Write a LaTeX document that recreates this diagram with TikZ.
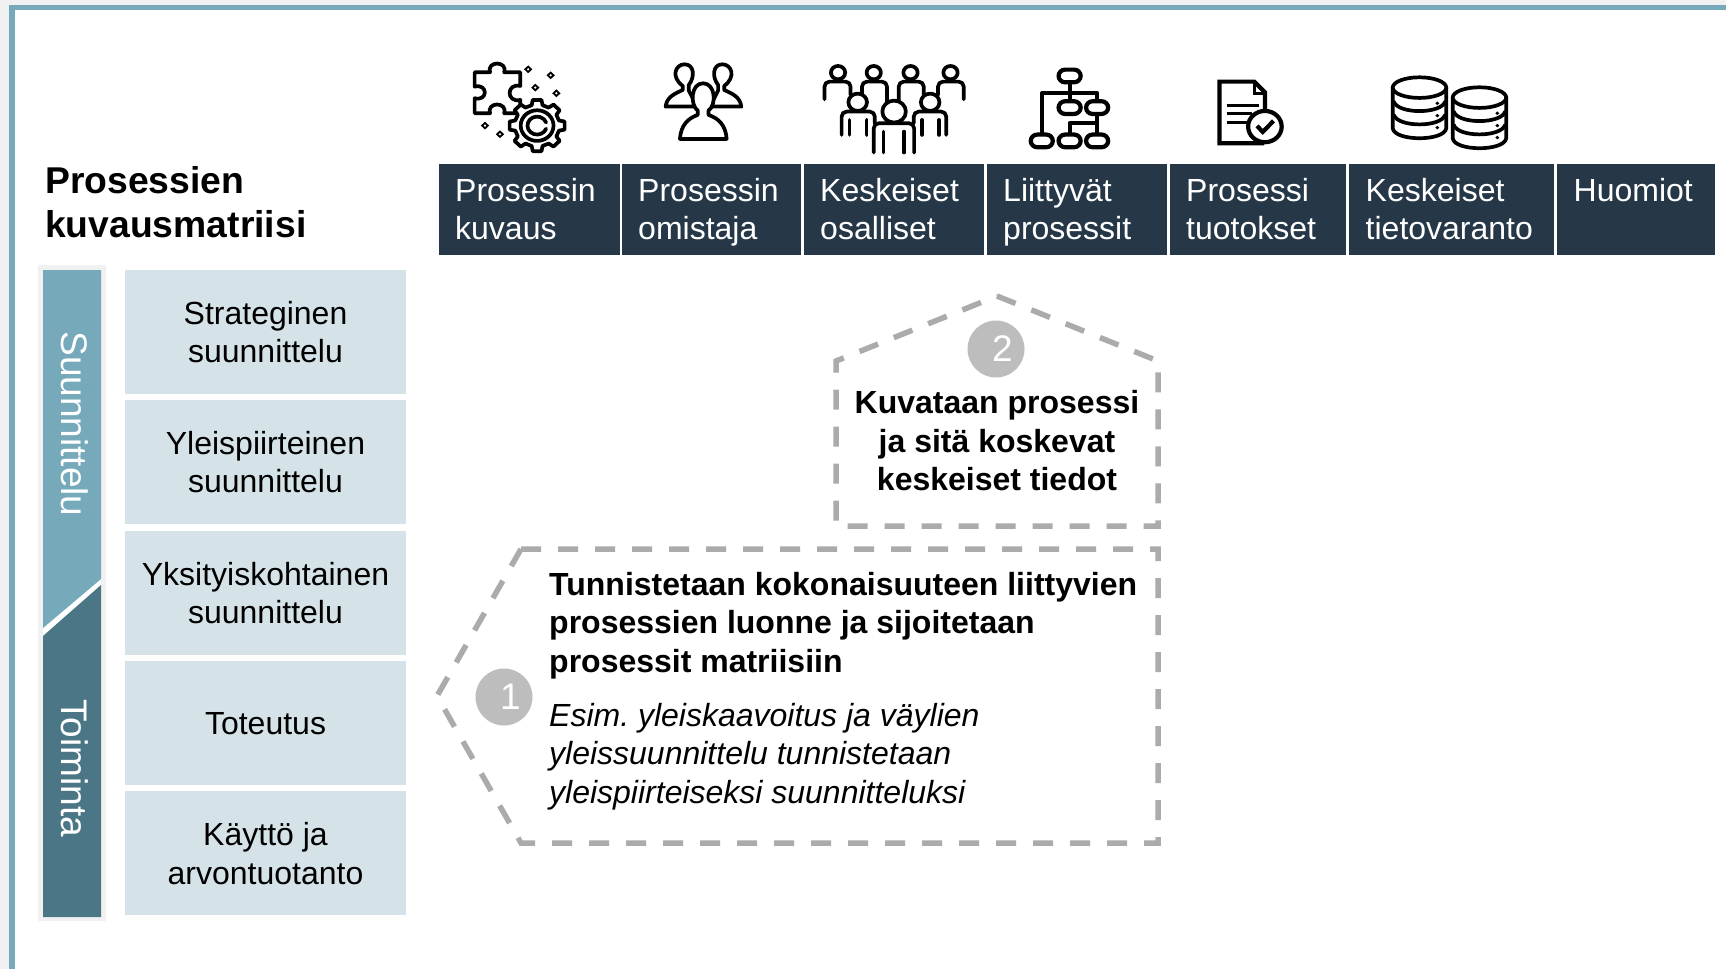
\documentclass[tikz,border=0pt]{standalone}
\usepackage{fontspec}
\setmainfont{Liberation Sans}
\frenchspacing
\definecolor{sininen}{HTML}{76A9B9}
\definecolor{tumma}{HTML}{4A7686}
\definecolor{yo}{HTML}{263848}
\definecolor{vaalea}{HTML}{D5E3E8}
\definecolor{harmaa}{HTML}{F1F1F1}
\definecolor{viiva}{HTML}{ABABAB}
\definecolor{pallo}{HTML}{BDBDBD}
\tikzset{
	otsikko/.style={fill=yo, inner sep=0pt, minimum height=91pt, anchor=north west},
	otsikkoteksti/.style={text=white, align=left, anchor=west, inner sep=0pt, font=\fontsize{32}{38.5}\selectfont},
	vaihe/.style={fill=vaalea, inner sep=0pt, minimum width=281pt, minimum height=124pt, align=center, font=\fontsize{32}{38.5}\selectfont},
	vaiheteksti/.style={align=center, inner sep=0pt, font=\fontsize{32}{38.5}\selectfont},
	sivu/.style={text=white, rotate=-90, inner sep=0pt, font=\fontsize{37}{40}\selectfont},
	katko/.style={draw=viiva, line width=5.5pt, dash pattern=on 20pt off 17pt},
	numero/.style={circle, fill=pallo, text=white, inner sep=0pt, minimum size=57pt, font=\fontsize{37}{40}\selectfont},
	ikoni/.style={line width=3.7pt, line join=round, line cap=round, fill=white},
	ikonialue/.style={x=0.357pt, y=-0.333pt},
}
\begin{document}
\begin{tikzpicture}[x=1pt, y=-1pt]
	\useasboundingbox ( 0, 0 ) rectangle ( 1726, 969 );

	% tausta ja kehys
	\fill [harmaa] ( 0, 0 ) rectangle ( 1726, 969 );
	\fill [sininen] ( 9, 4.5 ) rectangle ( 1726, 969 );
	\fill [white] ( 15, 10 ) rectangle ( 1726, 969 );

	% otsikko
	\node [anchor=west, align=left, inner sep=0pt, font=\fontsize{37.3}{44}\selectfont\bfseries] (otsikko) at ( 45, 202 ) {Prosessien\\kuvausmatriisi};

	% sarakkeet
	\node [otsikko, minimum width=181pt] (kuvaus) at ( 439, 164 ) {};
	\node [otsikko, minimum width=179pt] (omistaja) at ( 622, 164 ) {};
	\node [otsikko, minimum width=180pt] (osalliset) at ( 804, 164 ) {};
	\node [otsikko, minimum width=180pt] (liittyvat) at ( 987, 164 ) {};
	\node [otsikko, minimum width=176pt] (tuotokset) at ( 1170, 164 ) {};
	\node [otsikko, minimum width=205pt] (tietovaranto) at ( 1349, 164 ) {};
	\node [otsikko, minimum width=158pt] (huomiot) at ( 1557, 164 ) {};
	\node [otsikkoteksti] (kuvausteksti) at ( 455, 209 ) {Prosessin\\kuvaus};
	\node [otsikkoteksti] (omistajateksti) at ( 638, 212.3 ) {Prosessin\\omistaja};
	\node [otsikkoteksti] (osallisetteksti) at ( 820, 209 ) {Keskeiset\\osalliset};
	\node [otsikkoteksti] (liittyvatteksti) at ( 1003, 212.3 ) {Liittyvät\\prosessit};
	\node [otsikkoteksti] (tuotoksetteksti) at ( 1186, 209 ) {Prosessi\\tuotokset};
	\node [otsikkoteksti] (tietovarantoteksti) at ( 1365.5, 209 ) {Keskeiset\\tietovaranto};
	\node [otsikkoteksti, anchor=base west] (huomiotteksti) at ( 1573.5, 201 ) {Huomiot};

	% vasen palkki
	\draw [harmaa, line width=5pt, fill=white] ( 40.5, 267.5 ) rectangle ( 103.5, 918.5 );
	\fill [sininen] ( 43, 270 ) -- ( 101, 270 ) -- ( 101, 579 ) -- ( 43, 628 ) -- cycle;
	\fill [tumma] ( 43, 636 ) -- ( 101, 585 ) -- ( 101, 917 ) -- ( 43, 917 ) -- cycle;
	\node [sivu] (suunnittelu) at ( 74.5, 424 ) {Suunnittelu};
	\node [sivu] (toiminta) at ( 74.5, 768 ) {Toiminta};

	% vaiheet
	\node [vaihe] (strateginen) at ( 265.5, 332 ) {};
	\node [vaihe] (yleispiirteinen) at ( 265.5, 462 ) {};
	\node [vaihe] (yksityiskohtainen) at ( 265.5, 593 ) {};
	\node [vaihe] (toteutus) at ( 265.5, 723 ) {};
	\node [vaihe] (kaytto) at ( 265.5, 853 ) {};
	\node [vaiheteksti] (strategistenteksti) at ( 265.5, 332 ) {Strateginen\\suunnittelu};
	\node [vaiheteksti] (yleispiirteistenteksti) at ( 265.5, 462 ) {Yleispiirteinen\\suunnittelu};
	\node [vaiheteksti] (yksityiskohtaisenteksti) at ( 265.5, 593 ) {Yksityiskohtainen\\suunnittelu};
	\node [vaiheteksti] (toteutuksenteksti) at ( 265.5, 723.5 ) {Toteutus};
	\node [vaiheteksti] (kayttoteksti) at ( 265.5, 853.5 ) {Käyttö ja\\arvontuotanto};

	% kohta 2
	\draw [katko] ( 997, 296 ) -- ( 1158, 361 ) -- ( 1158, 526 ) -- ( 836, 526 ) -- ( 836, 361 ) -- cycle;
	\node [numero] (kaksi) at ( 996, 349 ) {\hspace{13pt}2};
	\node [align=center, inner sep=0pt, font=\fontsize{32}{38.5}\selectfont\bfseries] (kohtakaksi) at ( 997, 441 ) {Kuvataan prosessi\\ja sitä koskevat\\keskeiset tiedot};

	% kohta 1
	\draw [katko] ( 521, 549 ) -- ( 1158, 549 ) -- ( 1158, 843 ) -- ( 521, 843 ) -- ( 437, 696 ) -- cycle;
	\node [numero] (yksi) at ( 504, 697 ) {\hspace{13pt}1};
	\node [anchor=west, align=left, inner sep=0pt, font=\fontsize{32}{38.5}\selectfont\bfseries] (kohtayksi) at ( 549, 625.3 ) {Tunnistetaan kokonaisuuteen liittyvien\\prosessien luonne ja sijoitetaan\\prosessit matriisiin};
	\node [anchor=west, align=left, inner sep=0pt, font=\fontsize{32}{38.5}\selectfont\itshape] (esimerkki) at ( 549, 756.3 ) {Esim. yleiskaavoitus ja väylien\\yleissuunnittelu tunnistetaan\\yleispiirteiseksi suunnitteluksi};

	% kuvake: palapeli ja ratas
	\begin{scope}[shift={( 440, 40 )}, ikonialue]
		\draw [ikoni] ( 97, 97 ) -- ( 140, 97 ) .. controls ( 130, 62 ) and ( 190, 62 ) .. ( 180, 97 ) -- ( 225, 97 ) -- ( 225, 138 ) .. controls ( 185, 128 ) and ( 185, 190 ) .. ( 225, 180 ) -- ( 225, 220 ) -- ( 180, 220 ) .. controls ( 190, 185 ) and ( 130, 185 ) .. ( 140, 220 ) -- ( 97, 220 ) -- ( 97, 175 ) .. controls ( 135, 185 ) and ( 135, 130 ) .. ( 97, 140 ) -- cycle;
		\begin{scope}[shift={( 272, 257 )}]
			\draw [ikoni] ( -14:63 ) \foreach \a in { 0, 45, 90, 135, 180, 225, 270, 315 } { -- ( \a-14:63 ) -- ( \a-9:78 ) -- ( \a+9:78 ) -- ( \a+14:63 ) } -- cycle;
			\draw [ikoni] ( 0, 0 ) circle ( 46 );
			\draw [ikoni, fill=none] ( 20:27 ) arc [start angle=20, delta angle=320, radius=27];
		\end{scope}
		\foreach \x/\y in { 247/88, 310/106, 267/143, 326/160, 126/257, 168/283 }
			\draw [line width=1.8pt] ( \x, \y ) +( 0, -8 ) -- +( 8, 0 ) -- +( 0, 8 ) -- +( -8, 0 ) -- cycle;
	\end{scope}

	% kuvake: omistajat
	\begin{scope}[shift={( 440, 40 )}, ikonialue]
		\draw [ikoni] ( 632, 200 ) .. controls ( 635, 170 ) and ( 660, 160 ) .. ( 680, 150 ) -- ( 680, 138 ) .. controls ( 645, 110 ) and ( 660, 73 ) .. ( 685, 73 ) .. controls ( 712, 73 ) and ( 715, 110 ) .. ( 697, 135 ) -- ( 697, 152 ) -- ( 720, 200 ) -- cycle;
		\draw [ikoni] ( 844, 200 ) .. controls ( 841, 170 ) and ( 816, 160 ) .. ( 796, 150 ) -- ( 796, 138 ) .. controls ( 831, 110 ) and ( 816, 73 ) .. ( 791, 73 ) .. controls ( 764, 73 ) and ( 761, 110 ) .. ( 779, 135 ) -- ( 779, 152 ) -- ( 756, 200 ) -- cycle;
		\draw [ikoni] ( 672, 297 ) -- ( 803, 297 ) .. controls ( 800, 255 ) and ( 780, 235 ) .. ( 752, 225 ) -- ( 752, 212 ) .. controls ( 775, 195 ) and ( 772, 130 ) .. ( 737, 130 ) .. controls ( 702, 130 ) and ( 700, 195 ) .. ( 722, 212 ) -- ( 722, 225 ) .. controls ( 695, 235 ) and ( 675, 255 ) .. ( 672, 297 ) -- cycle;
	\end{scope}

	% kuvake: osalliset
	\begin{scope}[shift={( 440, 40 )}, ikonialue, rounded corners=5pt]
		\foreach \x in { 1115, 1215, 1318, 1430 }
			\draw [ikoni] ( \x, 98 ) circle ( 20 );
		\draw [ikoni, fill=none] ( 1077, 178 ) -- ( 1077, 125 ) -- ( 1150, 125 ) -- ( 1150, 165 );
		\draw [ikoni, fill=none] ( 1182, 170 ) -- ( 1182, 125 ) -- ( 1252, 125 ) -- ( 1252, 195 );
		\draw [ikoni, fill=none] ( 1285, 195 ) -- ( 1285, 125 ) -- ( 1355, 125 ) -- ( 1355, 165 );
		\draw [ikoni, fill=none] ( 1395, 165 ) -- ( 1395, 125 ) -- ( 1467, 125 ) -- ( 1467, 178 );
		\foreach \x in { 1170, 1373 } {
			\draw [ikoni] ( \x, 187 ) circle ( 26 );
			\draw [ikoni, fill=none] ( \x-23, 240 ) -- ( \x-23, 285 );
			\draw [ikoni, fill=none] ( \x+25, 240 ) -- ( \x+25, 285 );
		}
		\draw [ikoni, fill=none] ( 1125, 285 ) -- ( 1125, 215 ) -- ( 1218, 215 ) -- ( 1218, 250 );
		\draw [ikoni, fill=none] ( 1327, 250 ) -- ( 1327, 215 ) -- ( 1418, 215 ) -- ( 1418, 285 );
		\draw [ikoni] ( 1272, 215 ) circle ( 33 );
		\draw [ikoni, fill=none] ( 1215, 338 ) -- ( 1215, 250 ) -- ( 1328, 250 ) -- ( 1328, 338 );
		\draw [ikoni, fill=none] ( 1242, 275 ) -- ( 1242, 338 );
		\draw [ikoni, fill=none] ( 1300, 275 ) -- ( 1300, 338 );
	\end{scope}

	% kuvake: prosessikaavio
	\begin{scope}[shift={( 1000, 40 )}, ikonialue, line width=4.2pt]
		\draw [line width=4.2pt] ( 195, 108 ) -- ( 195, 203 );
		\draw [line width=4.2pt, line join=round] ( 117, 303 ) -- ( 117, 160 ) -- ( 272, 160 ) -- ( 272, 303 );
		\draw [line width=4.2pt, line join=round] ( 195, 303 ) -- ( 195, 250 ) -- ( 272, 250 );
		\foreach \x/\y in { 195/108, 195/203, 272/203, 117/303, 195/303, 272/303 }
			\draw [line width=4.2pt, fill=white, rounded corners=6.5pt] ( \x-31, \y-19 ) rectangle ( \x+31, \y+19 );
	\end{scope}

	% kuvake: asiakirja
	\begin{scope}[shift={( 1000, 40 )}, ikonialue, line width=4.2pt]
		\draw [line width=4.2pt, line join=miter] ( 740, 310 ) -- ( 615, 310 ) -- ( 615, 125 ) -- ( 712, 125 ) -- ( 742, 157 ) -- ( 742, 215 );
		\draw [line width=3pt, line join=miter] ( 712, 125 ) -- ( 712, 160 ) -- ( 742, 160 );
		\draw [line width=3pt] ( 635, 197 ) -- ( 725, 197 ) ( 635, 222 ) -- ( 705, 222 ) ( 635, 247 ) -- ( 695, 247 );
		\draw [line width=4.2pt, fill=white] ( 742, 260 ) circle ( 47 );
		\draw [line width=4.2pt] ( 720, 258 ) -- ( 736, 276 ) -- ( 766, 243 );
	\end{scope}

	% kuvake: tietokannat
	\begin{scope}[shift={( 1000, 40 )}, ikonialue]
		\foreach \x/\y in { 1175/143, 1343/173 } {
			\draw [ikoni] ( \x-75, \y ) -- ( \x-75, \y+122 ) .. controls ( \x-70, \y+162 ) and ( \x+70, \y+162 ) .. ( \x+75, \y+122 ) -- ( \x+75, \y ) -- cycle;
			\draw [ikoni] ( \x, \y ) ellipse ( 75 and 31 );
			\draw [ikoni, fill=none] ( \x-72, \y+42 ) .. controls ( \x-60, \y+80 ) and ( \x+60, \y+80 ) .. ( \x+72, \y+42 );
			\draw [ikoni, fill=none] ( \x-72, \y+82 ) .. controls ( \x-60, \y+120 ) and ( \x+60, \y+120 ) .. ( \x+72, \y+82 );
			\fill ( \x+50, \y+47 ) circle ( 5.5 );
			\fill ( \x+50, \y+84 ) circle ( 5.5 );
			\fill ( \x+50, \y+120 ) circle ( 5.5 );
		}
	\end{scope}
\end{tikzpicture}
\end{document}
